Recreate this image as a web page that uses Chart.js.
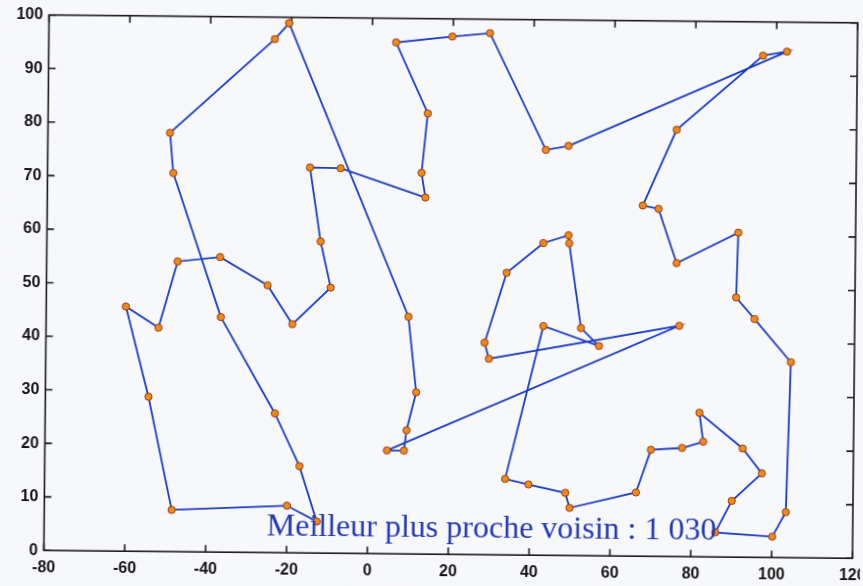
<!DOCTYPE html>
<html>
<head>
<meta charset="utf-8">
<script src="https://cdn.jsdelivr.net/npm/chart.js@4/dist/chart.umd.min.js"></script>
<style>
    html, body {margin: 0; padding: 0; background: #f7f8fb; overflow: hidden}
    #wrap      {width: 863px; height: 586px; position: relative; overflow: hidden}
    /* the scan is a little tilted clockwise */
    #chart     {transform: rotate(0.56deg); transform-origin: 431.5px 293px}
</style>
</head>
<body>
<div id="wrap"><canvas id="chart" width="863" height="586"></canvas></div>
<script>
/**
 * Nearest neighbour tour. The tour is closed:
 * the last city goes back to the first one.
 */
const tourX = [-20.6, -24.1, -49.8, -48.9, -36.8, -23.2, -17.0, -12.6, -20.0, -48.5,
               -54.5, -60.3, -52.2, -47.6, -37.1, -25.3, -19.1, -9.7, -12.3, -15.1,
               -7.5, 13.5, 12.5, 13.9, 5.9, 19.8, 29.1, 43.2, 48.8, 102.6,
               96.7, 75.5, 67.3, 71.2, 75.8, 91.0, 90.6, 95.2, 104.3, 103.4,
               100.1, 86.0, 90.0, 97.4, 92.6, 81.8, 82.8, 77.6, 69.9, 66.3,
               49.9, 48.8, 39.7, 33.9, 43.0, 56.8, 52.3, 49.2, 49.0, 42.8,
               33.8, 28.5, 29.6, 76.6, 4.6, 8.8, 9.4, 11.7, 9.6];
const tourY = [98.9, 95.9, 78.2, 70.7, 43.9, 26.0, 16.2, 5.9, 8.8, 7.8,
               28.9, 45.7, 41.8, 54.2, 55.1, 49.9, 42.7, 49.6, 58.2, 72.0,
               71.9, 66.6, 71.2, 82.3, 95.5, 96.7, 97.4, 75.7, 76.5, 94.5,
               93.7, 79.7, 65.5, 64.9, 54.8, 60.6, 48.5, 44.5, 36.5, 8.5,
               3.9, 4.6, 10.5, 15.7, 20.3, 26.9, 21.5, 20.3, 19.9, 11.9,
               8.9, 11.7, 13.2, 14.2, 42.8, 39.2, 42.5, 58.3, 59.8, 58.3,
               52.7, 39.6, 36.6, 43.1, 19.3, 19.3, 23.1, 30.2, 44.3];

const xTicks   = [-80, -60, -40, -20, 0, 20, 40, 60, 80, 100, 120];
const yTicks   = [0, 10, 20, 30, 40, 50, 60, 70, 80, 90, 100];
const subtitle = 'Meilleur plus proche voisin : 1 030';

const points = tourX.map((x, i) => ({x, y: tourY[i]}));
points.push({x: tourX[0], y: tourY[0]});

const TICK_LEN = 7;

// MATLAB like box with ticks pointing inside on all four sides
const boxPlugin = {
    id: 'box',
    beforeDraw(chart) {
        const ctx = chart.ctx;
        ctx.save();
        ctx.fillStyle = '#f7f8fb';
        ctx.fillRect(-20, -20, chart.width + 40, chart.height + 40);
        ctx.restore();
    },
    beforeDatasetsDraw(chart) {
        const {ctx, chartArea: a, scales} = chart;
        ctx.save();
        ctx.strokeStyle = '#1b1b1b';
        ctx.lineWidth   = 1.6;
        ctx.strokeRect(a.left, a.top, a.right - a.left, a.bottom - a.top);
        ctx.beginPath();
        scales.x.ticks.forEach(t => {
            const px = scales.x.getPixelForValue(t.value);
            ctx.moveTo(px, a.bottom); ctx.lineTo(px, a.bottom - TICK_LEN);
            ctx.moveTo(px, a.top);    ctx.lineTo(px, a.top + TICK_LEN);
        });
        scales.y.ticks.forEach(t => {
            const py = scales.y.getPixelForValue(t.value);
            ctx.moveTo(a.left, py);  ctx.lineTo(a.left + TICK_LEN, py);
            ctx.moveTo(a.right, py); ctx.lineTo(a.right - TICK_LEN, py);
        });
        ctx.stroke();
        ctx.restore();
    },
    afterDraw(chart) {
        const ctx = chart.ctx;
        ctx.save();
        ctx.font         = '32px "Liberation Serif", "DejaVu Serif", serif';
        ctx.fillStyle    = '#2438b4';
        ctx.textBaseline = 'alphabetic';
        ctx.fillText(subtitle, 269, 536.5);
        ctx.restore();
    }
};

const tickFont = {family: '"Liberation Sans", Arial, sans-serif', size: 16, weight: 'bold'};

new Chart(document.getElementById('chart'), {
    type   : 'scatter',
    data   : {
        datasets: [{
            data                : points,
            showLine            : true,
            borderColor         : '#1c3cc0',
            borderWidth         : 1.8,
            pointRadius         : 3.6,
            pointBackgroundColor: '#f08a1c',
            pointBorderColor    : '#9a3a10',
            pointBorderWidth    : 1,
            tension             : 0
        }]
    },
    options: {
        responsive: false,
        animation : false,
        layout    : {padding: {top: 18.7, right: 8, left: 0, bottom: 0}},
        plugins   : {legend: {display: false}, tooltip: {enabled: false}},
        scales    : {
            x: {
                type   : 'linear',
                min    : -80,
                max    : 120,
                afterBuildTicks: s => {s.ticks = xTicks.map(v => ({value: v}))},
                afterFit: s => {s.height = 31.8; s.paddingLeft = 0; s.paddingRight = 0},
                grid   : {display: false, drawTicks: false},
                border : {display: false},
                ticks  : {font: tickFont, color: '#151515', padding: 8, maxRotation: 0}
            },
            y: {
                type   : 'linear',
                min    : 0,
                max    : 100,
                afterBuildTicks: s => {s.ticks = yTicks.map(v => ({value: v}))},
                afterFit: s => {s.width = 46.4; s.paddingTop = 0; s.paddingBottom = 0},
                grid   : {display: false, drawTicks: false},
                border : {display: false},
                ticks  : {font: tickFont, color: '#151515', padding: 6}
            }
        }
    },
    plugins: [boxPlugin]
});
</script>
</body>
</html>
